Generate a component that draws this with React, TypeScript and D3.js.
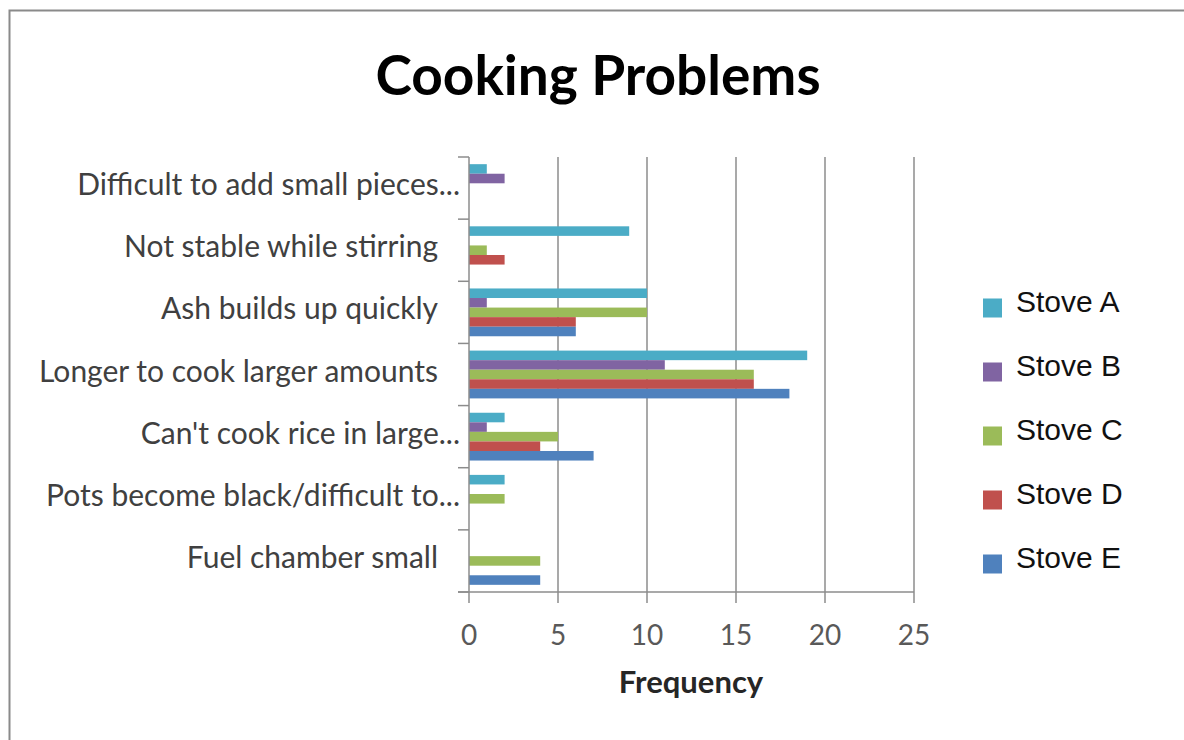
import React from "react";
import * as d3 from "d3";

const categories = [
  "Difficult to add small pieces...",
  "Not stable while stirring",
  "Ash builds up quickly",
  "Longer to cook larger amounts",
  "Can't cook rice in large...",
  "Pots become black/difficult to...",
  "Fuel chamber small",
];
const truncated = [true, false, false, false, true, true, false];
const seriesNames = ["Stove A", "Stove B", "Stove C", "Stove D", "Stove E"];
const seriesColors = ["#4BACC6", "#8064A2", "#9BBB59", "#C0504D", "#4F81BD"];
const stoveA = [1, 9, 10, 19, 2, 2, 0];
const stoveB = [2, 0, 1, 11, 1, 0, 0];
const stoveC = [0, 1, 10, 16, 5, 2, 4];
const stoveD = [0, 2, 6, 16, 4, 0, 0];
const stoveE = [0, 0, 6, 18, 7, 0, 4];
const seriesValues = [stoveA, stoveB, stoveC, stoveD, stoveE];
const xTicks = [0, 5, 10, 15, 20, 25];

export default function App() {
  const W = 1184, H = 740;
  const left = 469, right = 914, top = 157, bottom = 592;
  const x = d3.scaleLinear().domain([0, 25]).range([left, right]);
  const y = d3.scaleBand<string>().domain(categories).range([top, bottom]).paddingInner(0).paddingOuter(0);
  const bw = y.bandwidth();
  const barH = bw / 6.5;
  const gap = (bw - barH * 5) / 2;
  const inner = d3.scaleBand<string>().domain(seriesNames).range([gap, gap + barH * 5]);

  const legendY = d3.scalePoint<string>().domain(seriesNames).range([308, 564]);

  const boundaries = d3.range(categories.length + 1).map((i) => top + i * bw);
  const font = "Lato, 'Open Sans', sans-serif";

  return (
    <svg width={W} height={H} style={{ position: "absolute", left: 0, top: 0, display: "block" }}>
      <rect x={0} y={0} width={W} height={H} fill="#fff" />
      <rect x={9.5} y={10.5} width={1300} height={900} fill="#fff" stroke="#8a8a8a" strokeWidth={2} />
      <text x={598} y={95} textAnchor="middle" fontFamily={font} fontWeight="bold" fontSize={55} fill="#000">
        Cooking Problems
      </text>
      {xTicks.slice(1).map((t) => (
        <line key={t} x1={x(t)} x2={x(t)} y1={top} y2={bottom} stroke="#8c8c8c" strokeWidth={1.5} />
      ))}
      {categories.map((c, ci) => (
        <g key={c}>
          {seriesNames.map((s, si) => {
            const v = seriesValues[si][ci];
            if (!v) return null;
            return (
              <rect
                key={s}
                x={x(0)}
                y={(y(c) as number) + (inner(s) as number)}
                width={x(v) - x(0)}
                height={barH}
                fill={seriesColors[si]}
              />
            );
          })}
        </g>
      ))}
      <line x1={left} x2={left} y1={top} y2={bottom} stroke="#8c8c8c" strokeWidth={1.5} />
      {boundaries.map((b, i) => (
        <line key={i} x1={left - 11} x2={left} y1={b} y2={b} stroke="#8c8c8c" strokeWidth={1.5} />
      ))}
      <line x1={left - 11} x2={right} y1={bottom} y2={bottom} stroke="#8c8c8c" strokeWidth={1.5} />
      {xTicks.map((t) => (
        <g key={t}>
          <line x1={x(t)} x2={x(t)} y1={bottom} y2={bottom + 11} stroke="#8c8c8c" strokeWidth={1.5} />
          <text x={x(t)} y={645} textAnchor="middle" fontFamily={font} fontSize={28} fill="#595959">
            {t}
          </text>
        </g>
      ))}
      {categories.map((c, i) => (
        <text
          key={c}
          x={truncated[i] ? 460 : 438}
          y={(y(c) as number) + bw / 2 + 7}
          textAnchor="end"
          fontFamily={font}
          fontSize={30}
          fill="#404040"
        >
          {c}
        </text>
      ))}
      <text x={691} y={693} textAnchor="middle" fontFamily={font} fontWeight="bold" fontSize={31} fill="#262626">
        Frequency
      </text>
      {seriesNames.map((s, i) => (
        <g key={s}>
          <rect x={983} y={(legendY(s) as number) - 9.5} width={19} height={19} fill={seriesColors[i]} />
          <text x={1016} y={(legendY(s) as number) + 4} fontFamily="'Liberation Sans', Arial, sans-serif" fontSize={30} fill="#111">
            {s}
          </text>
        </g>
      ))}
    </svg>
  );
}
